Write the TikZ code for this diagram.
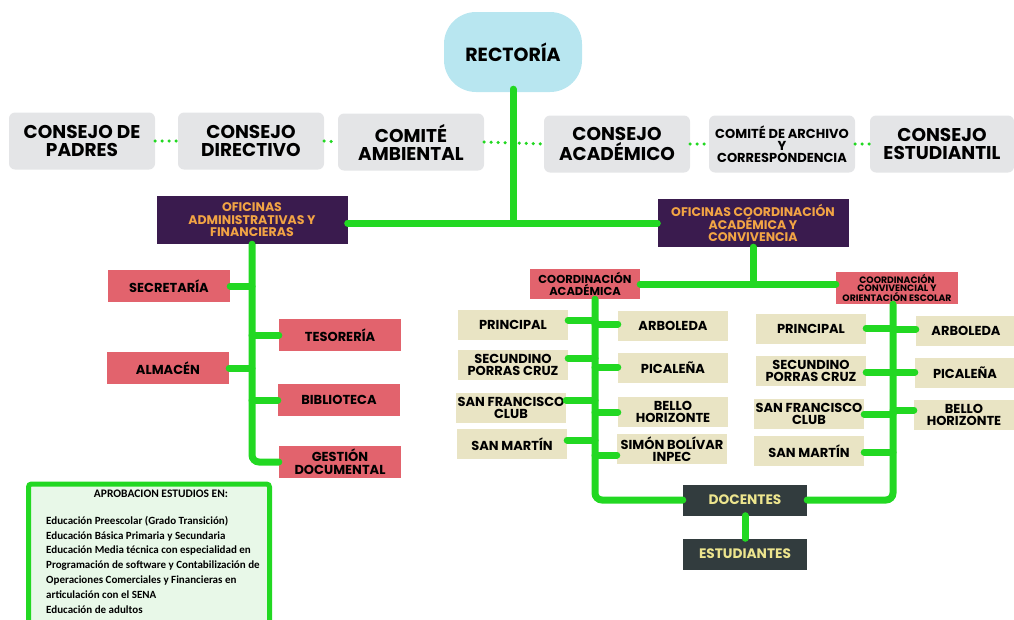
\documentclass[tikz,border=0pt]{standalone}
\usepackage{fontspec}
\setmainfont{Poppins}
\newfontfamily\listfont{Carlito}
\usepackage{xcolor}
\usetikzlibrary{
    arrows.meta,
    shapes,
    positioning,
    calc
}

\definecolor{linegreen}{HTML}{22D822}
\definecolor{councilgrey}{HTML}{E4E5E7}
\definecolor{rectorcyan}{HTML}{B8E6F0}
\definecolor{officepurple}{HTML}{3A1B4E}
\definecolor{officetext}{HTML}{F2A444}
\definecolor{unitred}{HTML}{E2636D}
\definecolor{sitetan}{HTML}{E9E4C4}
\definecolor{peopledark}{HTML}{323C3E}
\definecolor{peopletext}{HTML}{EDE58E}
\definecolor{approvalfill}{HTML}{E8F8E8}

\tikzset{
    rector/.style={fill=rectorcyan, rounded corners=32pt, minimum width=138pt,
        minimum height=80pt, font=\bfseries\fontsize{19}{19}\selectfont},
    council/.style={fill=councilgrey, rounded corners=6pt, minimum width=146pt,
        minimum height=57pt, align=center, inner sep=1pt,
        font=\bfseries\fontsize{18.5}{18}\selectfont},
    office/.style={fill=officepurple, text=officetext, minimum width=191pt,
        minimum height=48pt, align=center, inner sep=2pt,
        font=\bfseries\fontsize{12.5}{12.5}\selectfont},
    unit/.style={fill=unitred, minimum width=122pt, minimum height=32pt,
        align=center, inner sep=2pt, font=\bfseries\fontsize{13}{13}\selectfont},
    site/.style={fill=sitetan, minimum width=110pt, minimum height=30pt,
        align=center, inner sep=0.5pt, font=\bfseries\fontsize{13}{12}\selectfont},
    people/.style={fill=peopledark, text=peopletext, minimum width=124pt,
        minimum height=31pt, font=\bfseries\fontsize{13.7}{13.7}\selectfont},
    link/.style={linegreen, line width=7pt, line cap=round, rounded corners=7pt},
    dots/.style={linegreen, line width=3.5pt, line cap=round,
        dash pattern=on 0pt off 7pt}
}

\begin{document}
\begin{tikzpicture}[x=1pt, y=-1pt]
    \useasboundingbox (0,0) rectangle (1014,619);

    % rectoria and councils
    \node[rector] (rec) at (513,52) {RECTORÍA};
    \node[council] (cpad) at (82,141) {CONSEJO DE\\PADRES};
    \node[council] (cdir) at (251,141) {CONSEJO\\DIRECTIVO};
    \node[council] (camb) at (411,142) {COMITÉ\\AMBIENTAL};
    \node[council] (cacd) at (617,144) {CONSEJO\\ACADÉMICO};
    \node[council, font=\bfseries\fontsize{13}{12}\selectfont] (carc) at (782,144)
        {COMITÉ DE ARCHIVO\\Y\\CORRESPONDENCIA};
    \node[council, minimum width=144pt] (cest) at (942,144) {CONSEJO\\ESTUDIANTIL};
    \draw[dots] (cpad.east) -- (cdir.west);
    \draw[dots] (cdir.east) -- (camb.west);
    \draw[dots] (camb.east) -- (cacd.west);
    \draw[dots] (cacd.east) -- (carc.west);
    \draw[dots] (carc.east) -- (cest.west);

    % offices
    \node[office] (offadm) at (252,220) {OFICINAS\\ADMINISTRATIVAS Y\\FINANCIERAS};
    \node[office] (offcoord) at (753,223) {OFICINAS COORDINACIÓN\\ACADÉMICA Y\\CONVIVENCIA};
    \draw[link] ([yshift=3pt]rec.south) -- (rec.south |- 0,223) coordinate (hub);
    \draw[link] (offadm.east |- hub) -- (offcoord.west |- hub);

    % administrative units
    \node[unit] (sec) at (169,286) {SECRETARÍA};
    \node[unit] (alm) at (168,368) {ALMACÉN};
    \node[unit] (tes) at (340,335) {TESORERÍA};
    \node[unit] (bib) at (339,400) {BIBLIOTECA};
    \node[unit] (ges) at (340,462) {GESTIÓN\\DOCUMENTAL};
    \draw[link] (offadm.south) |- (ges.west);
    \foreach \n in {sec,alm}
        \draw[link] (\n.east) -- (\n.east -| offadm.south);
    \foreach \n in {tes,bib}
        \draw[link] (\n.west) -- (\n.west -| offadm.south);

    % coordinations
    \node[unit, minimum width=110pt, minimum height=30pt, inner sep=1pt,
        font=\bfseries\fontsize{11.5}{11}\selectfont] (coacad) at (585,284)
        {COORDINACIÓN\\ACADÉMICA};
    \node[unit, minimum width=122pt, minimum height=32pt, inner sep=0.5pt,
        font=\bfseries\fontsize{9.3}{8.6}\selectfont] (coconv) at (897,288)
        {COORDINACIÓN\\CONVIVENCIAL Y\\ORIENTACIÓN ESCOLAR};
    \draw[link] (coacad.east) -- (coacad.east -| coconv.west);
    \draw[link] (offcoord.south) -- (offcoord.south |- coacad.east);

    \node[people] (doc) at (745,500) {DOCENTES};
    \node[people] (est) at (745,554) {ESTUDIANTES};
    \draw[link] (doc.south) -- (est.north);
    \coordinate (spinea) at ([xshift=10pt]coacad.south);
    \coordinate (spineb) at ([xshift=-4pt]coconv.south);
    \draw[link] (spinea) |- (doc.west);
    \draw[link] (spineb) |- (doc.east);

    % sites under coordinacion academica
    \node[site] (apri) at (513,325) {PRINCIPAL};
    \node[site] (asec) at (513,365) {SECUNDINO\\PORRAS CRUZ};
    \node[site] (asfc) at (511,408) {SAN FRANCISCO\\CLUB};
    \node[site] (asma) at (512,444) {SAN MARTÍN};
    \node[site] (aarb) at (673,326) {ARBOLEDA};
    \node[site] (apic) at (673,368) {PICALEÑA};
    \node[site] (abel) at (673,412) {BELLO\\HORIZONTE};
    \node[site] (asim) at (672,449) {SIMÓN BOLÍVAR\\INPEC};
    \foreach \n/\y in {apri/320,asec/358,asfc/400,asma/440}
        \draw[link] (\n.east |- 0,\y) -- (spinea |- 0,\y);
    \foreach \n/\y in {aarb/324,apic/367,abel/412,asim/455}
        \draw[link] (\n.west |- 0,\y) -- (spinea |- 0,\y);

    % sites under coordinacion convivencial
    \node[site] (bpri) at (811,329) {PRINCIPAL};
    \node[site] (bsec) at (811,371) {SECUNDINO\\PORRAS CRUZ};
    \node[site] (bsfc) at (809,414) {SAN FRANCISCO\\CLUB};
    \node[site] (bsma) at (809,451) {SAN MARTÍN};
    \node[site, minimum width=100pt] (barb) at (966,331) {ARBOLEDA};
    \node[site, minimum width=100pt] (bpic) at (965,373) {PICALEÑA};
    \node[site, minimum width=100pt] (bbel) at (964,415) {BELLO\\HORIZONTE};
    \foreach \n/\y in {bpri/328,bsec/372,bsfc/414,bsma/452}
        \draw[link] (\n.east |- 0,\y) -- (spineb |- 0,\y);
    \foreach \n/\y in {barb/329,bpic/372,bbel/410}
        \draw[link] (\n.west |- 0,\y) -- (spineb |- 0,\y);

    % approvals box
    \node[draw=linegreen, line width=5pt, fill=approvalfill, rounded corners=3pt,
        minimum width=241pt, minimum height=140pt] (aprob) at (149,554) {};
    \node[font=\listfont\bfseries\fontsize{11.5}{11.5}\selectfont] (aptitle) at (161,494)
        {APROBACION ESTUDIOS EN:};
    \node[anchor=north west, align=left, inner sep=0pt,
        font=\listfont\bfseries\fontsize{11}{14.8}\selectfont] (aplist) at (46,516)
        {Educación Preescolar (Grado Transición)\\
         Educación Básica Primaria y Secundaria\\
         Educación Media técnica con especialidad en\\
         Programación de software y Contabilización de\\
         Operaciones Comerciales y Financieras en\\
         articulación con el SENA\\
         Educación de adultos};
\end{tikzpicture}
\end{document}
